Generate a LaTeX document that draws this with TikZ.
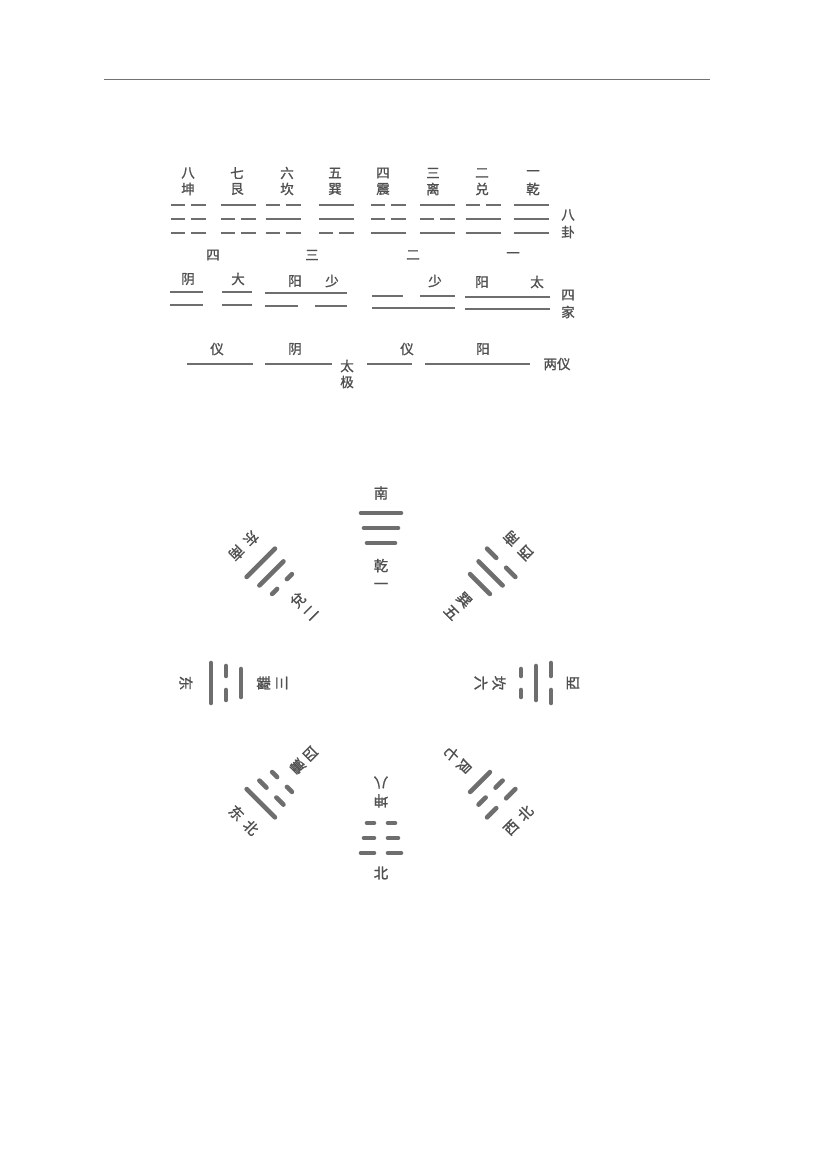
\documentclass[tikz,border=0pt]{standalone}
\usepackage{fontspec}
\newfontfamily\cjk[FakeBold=1.3]{Noto Sans CJK SC}
\usetikzlibrary{calc}
\definecolor{ink}{RGB}{80,80,80}
\definecolor{bar}{RGB}{110,110,110}

\begin{document}
\begin{tikzpicture}[%
x=1pt, y=-1pt,
every node/.style={font=\cjk\fontsize{13.5}{13.5}\selectfont, text=ink, inner sep=0pt},
thin bar/.style={draw=bar, line width=2.4pt},
thick bar/.style={draw=bar, line width=4.6pt, line cap=round},
big/.style={font=\cjk\fontsize{14.5}{18}\selectfont, align=center},
]
\useasboundingbox [fill=white] (0,0) rectangle (815,1167);
%% rule;
\draw [color=black!55, line width=0.6pt] (104,79) -- (710,79);
%% eight trigrams;
\foreach \lx/\cx/\nu/\nm/\id/\a/\b/\c in {188/188/八/坤/kun/0/0/0, 237/238/七/艮/gen/1/0/0, 287/283/六/坎/kan/0/1/0, 335/336/五/巽/xun/1/1/0, 383/388/四/震/zhen/0/0/1, 433/437/三/离/li/1/0/1, 482/483/二/兑/dui/0/1/1, 533/531/一/乾/qian/1/1/1}{
  \node (num-\id) at (\lx,173) {\nu};
  \node (name-\id) at (\lx,189) {\nm};
  \foreach \s/\yy in {\a/205,\b/219,\c/233}{
    \ifnum\s=1
      \draw [thin bar] (\cx-17.5,\yy) -- (\cx+17.5,\yy);
    \else
      \draw [thin bar] (\cx-17.5,\yy) -- (\cx-3,\yy) (\cx+3,\yy) -- (\cx+17.5,\yy);
    \fi
  }
}
\node (ba) at (568,215) {八};
\node (gua) at (568,232) {卦};
%% counts;
\node (cnt-four) at (213,255) {四};
\node (cnt-three) at (312,255) {三};
\node (cnt-two) at (413,255) {二};
\node (cnt-one) at (513,255) {一};
%% four images;
\node (yin-a) at (188,279) {阴};
\node (da-a) at (238,279) {大};
\node (yang-b) at (295,281) {阳};
\node (shao-b) at (332,281) {少};
\node (shao-c) at (435,281) {少};
\node (yang-d) at (482,282) {阳};
\node (tai-d) at (537,282) {太};
\draw [thin bar] (170,292) -- (203,292) (222,292) -- (252,292);
\draw [thin bar] (170,305) -- (203,305) (222,305) -- (252,305);
\draw [thin bar] (265,293) -- (347,293);
\draw [thin bar] (265,306) -- (298,306) (315,306) -- (347,306);
\draw [thin bar] (372,296) -- (403,296) (420,296) -- (455,296);
\draw [thin bar] (372,308) -- (455,308);
\draw [thin bar] (465,297) -- (550,297);
\draw [thin bar] (465,309) -- (550,309);
\node (si) at (568,295) {四};
\node (jia) at (568,312) {家};
%% two modes;
\node (yi-a) at (217,349) {仪};
\node (yin-e) at (295,349) {阴};
\node (yi-b) at (407,349) {仪};
\node (yang-e) at (483,349) {阳};
\draw [thin bar] (187,364) -- (253,364);
\draw [thin bar] (265,364) -- (332,364);
\draw [thin bar] (367,364) -- (412,364);
\draw [thin bar] (425,364) -- (530,364);
\node (tai) at (347,366) {太};
\node (ji) at (347,382) {极};
\node (liangyi) at (557,364) {两仪};
%% circle of trigrams;
\begin{scope}[shift={(381,683)}, x=1pt, y=1pt]
\foreach \ang/\a/\b/\c/\nm/\nu/\id in {90/1/1/1/乾/一/qian, 135/1/1/0/兌/二/dui, 180/1/0/1/離/三/li, 225/1/0/0/震/四/zhen, 45/0/1/1/巽/五/xun, 0/0/1/0/坎/六/kan, 315/0/0/1/艮/七/gen, 270/0/0/0/坤/八/kun}{
  \begin{scope}[rotate=\ang-90, transform shape]
    \foreach \s/\r/\h in {\a/170/20,\b/155/17,\c/140/14}{
      \ifnum\s=1
        \draw [thick bar] (-\h,\r) -- (\h,\r);
      \else
        \draw [thick bar] (-\h,\r) -- (-7,\r) (7,\r) -- (\h,\r);
      \fi
    }
    \node [big] (gua-\id) at (0,109) {\nm\\\nu};
  \end{scope}
}
%% directions;
\node [big] (south) at (90:190) {南};
\node [big] (north) at (270:190) {北};
\node [big, rotate=-90] (east) at (180:195) {东};
\node [big, rotate=90] (west) at (0:192) {西};
\node [big, rotate=225] (southeast) at (135:194) {东\hspace{6pt}南};
\node [big, rotate=315] (northeast) at (225:194) {东\hspace{6pt}北};
\node [big, rotate=135] (southwest) at (45:194) {西\hspace{6pt}南};
\node [big, rotate=45] (northwest) at (315:194) {西\hspace{6pt}北};
\end{scope}
\end{tikzpicture}
\end{document}
